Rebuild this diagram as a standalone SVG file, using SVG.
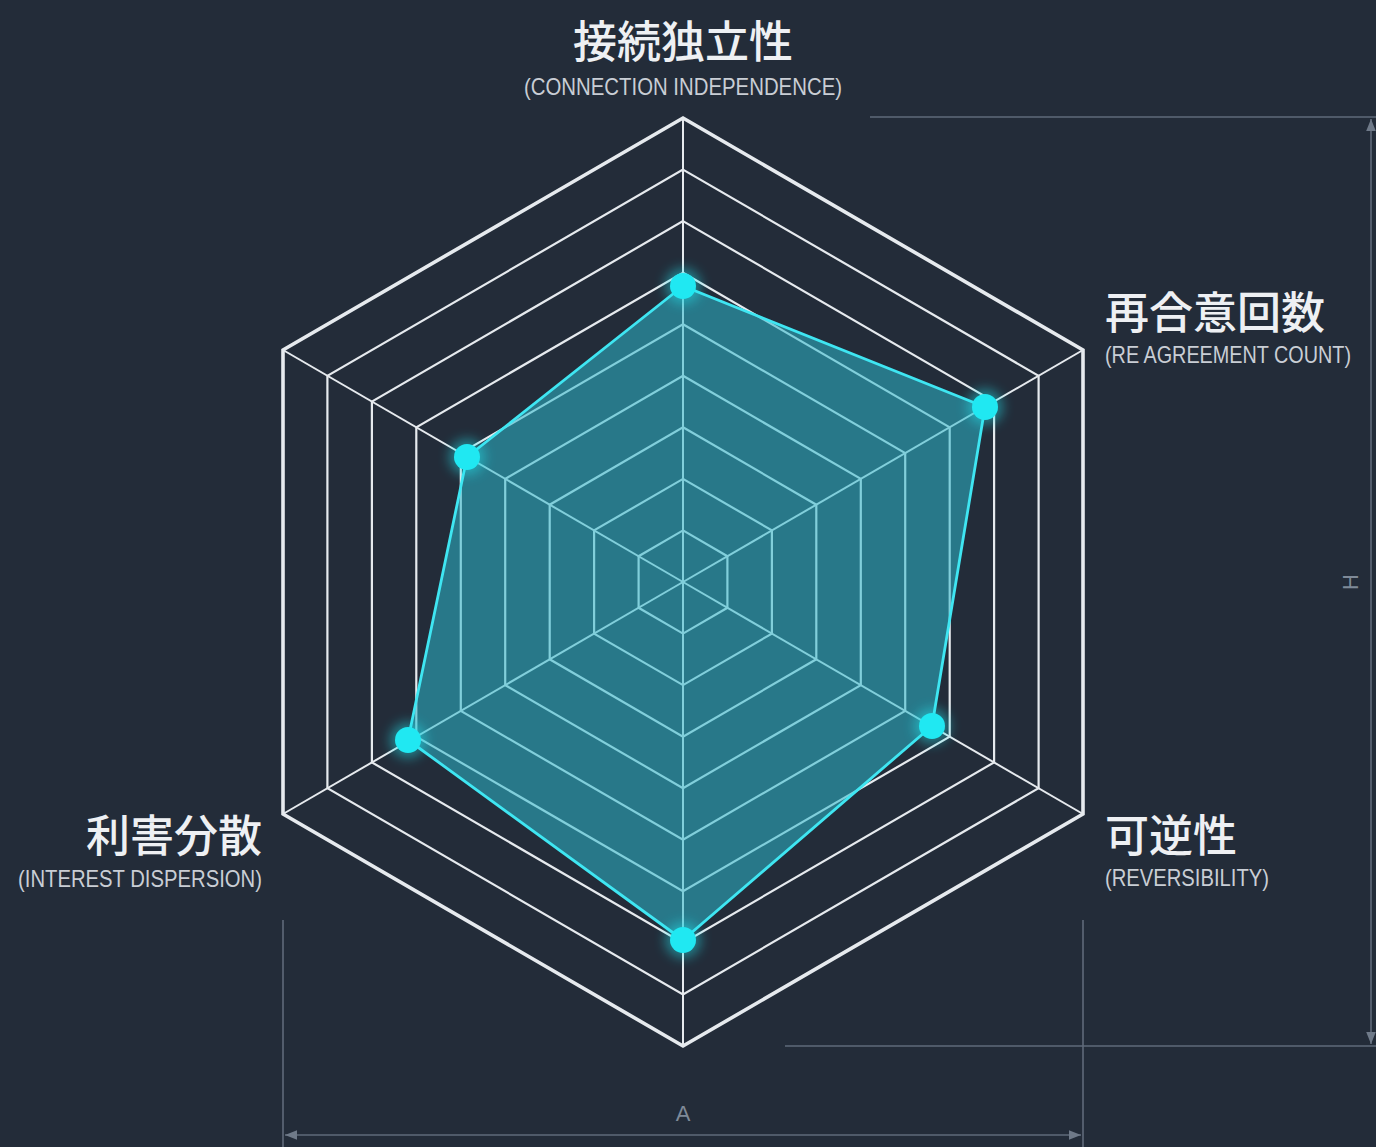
<svg xmlns="http://www.w3.org/2000/svg" width="1376" height="1147" viewBox="0 0 1376 1147">
  <defs>
    <style>
      .ring { fill: none; stroke: #e6eaee; stroke-width: 2.2; stroke-linejoin: miter; }
      .outer { stroke-width: 3.6; }
      .spoke { stroke: #e6eaee; stroke-width: 2; }
      .dim { stroke: #5f6a7a; stroke-width: 1.6; fill: none; }
      .jp { font-family: "Noto Sans CJK JP", "Noto Sans CJK SC", sans-serif; font-size: 44px; font-weight: 500; fill: #eef0f3; }
      .en { font-family: "Liberation Sans", Arial, sans-serif; font-size: 24px; fill: #c9ced5; }
      .dimtxt { font-family: "Liberation Sans", Arial, sans-serif; font-size: 22px; fill: #7f8a98; }
      .area { fill: #2eb8cc; fill-opacity: 0.55; stroke: #3fe6f2; stroke-width: 2.8; stroke-linejoin: round; }
      .dot { fill: #20e8f2; }
      .halo { fill: #20e8f2; opacity: 0.45; }
    </style>
    <filter id="glow" x="-100%" y="-100%" width="300%" height="300%">
      <feGaussianBlur stdDeviation="6"/>
    </filter>
    <marker id="arr" viewBox="0 0 10 10" refX="10" refY="5" markerWidth="12" markerHeight="12" markerUnits="userSpaceOnUse" orient="auto-start-reverse">
      <path d="M0,1 L10,5 L0,9 Z" fill="#6f7a89"/>
    </marker>
  </defs>

  <rect x="0" y="0" width="1376" height="1147" fill="#232c39"/>

  <!-- grid rings -->
  <g id="grid">
    <polygon class="ring" points="683,530.4 727.4,556.2 727.4,607.8 683,633.6 638.6,607.8 638.6,556.2"/>
    <polygon class="ring" points="683,478.9 771.9,530.4 771.9,633.6 683,685.1 594.1,633.6 594.1,530.4"/>
    <polygon class="ring" points="683,427.3 816.3,504.7 816.3,659.3 683,736.7 549.7,659.3 549.7,504.7"/>
    <polygon class="ring" points="683,375.8 860.8,478.9 860.8,685.1 683,788.2 505.2,685.1 505.2,478.9"/>
    <polygon class="ring" points="683,324.2 905.2,453.1 905.2,710.9 683,839.8 460.8,710.9 460.8,453.1"/>
    <polygon class="ring" points="683,272.7 949.7,427.3 949.7,736.7 683,891.3 416.3,736.7 416.3,427.3"/>
    <polygon class="ring" points="683,221.1 994.1,401.6 994.1,762.4 683,942.9 371.9,762.4 371.9,401.6"/>
    <polygon class="ring" points="683,169.6 1038.6,375.8 1038.6,788.2 683,994.4 327.4,788.2 327.4,375.8"/>
    <polygon class="ring outer" points="683,118 1083,350 1083,814 683,1046 283,814 283,350"/>
  </g>

  <!-- connectors: spokes and data polygon -->
  <g id="connectors">
    <line class="spoke" x1="683" y1="582" x2="683" y2="118"/>
    <line class="spoke" x1="683" y1="582" x2="1083" y2="350"/>
    <line class="spoke" x1="683" y1="582" x2="1083" y2="814"/>
    <line class="spoke" x1="683" y1="582" x2="683" y2="1046"/>
    <line class="spoke" x1="683" y1="582" x2="283" y2="814"/>
    <line class="spoke" x1="683" y1="582" x2="283" y2="350"/>
    <polygon id="data-area" class="area" points="683,286 985,407 932,726 683,940 408,740 467,457"/>
  </g>

  <!-- data points -->
  <g id="point-connection">
    <circle class="halo" cx="683" cy="286" r="18" filter="url(#glow)"/>
    <circle class="dot" cx="683" cy="286" r="13"/>
  </g>
  <g id="point-reagreement">
    <circle class="halo" cx="985" cy="407" r="18" filter="url(#glow)"/>
    <circle class="dot" cx="985" cy="407" r="13"/>
  </g>
  <g id="point-reversibility">
    <circle class="halo" cx="932" cy="726" r="18" filter="url(#glow)"/>
    <circle class="dot" cx="932" cy="726" r="13"/>
  </g>
  <g id="point-bottom">
    <circle class="halo" cx="683" cy="940" r="18" filter="url(#glow)"/>
    <circle class="dot" cx="683" cy="940" r="13"/>
  </g>
  <g id="point-interest">
    <circle class="halo" cx="408" cy="740" r="18" filter="url(#glow)"/>
    <circle class="dot" cx="408" cy="740" r="13"/>
  </g>
  <g id="point-upperleft">
    <circle class="halo" cx="467" cy="457" r="18" filter="url(#glow)"/>
    <circle class="dot" cx="467" cy="457" r="13"/>
  </g>

  <!-- axis labels -->
  <g id="label-connection">
    <text class="jp" x="683" y="58" text-anchor="middle">接続独立性</text>
    <text class="en" x="683" y="95" text-anchor="middle" font-size="25" textLength="318" lengthAdjust="spacingAndGlyphs">(CONNECTION INDEPENDENCE)</text>
  </g>
  <g id="label-reagreement">
    <text class="jp" x="1105" y="329">再合意回数</text>
    <text class="en" x="1105" y="363" font-size="19" textLength="246" lengthAdjust="spacingAndGlyphs">(RE AGREEMENT COUNT)</text>
  </g>
  <g id="label-reversibility">
    <text class="jp" x="1105" y="852">可逆性</text>
    <text class="en" x="1105" y="886" textLength="164" lengthAdjust="spacingAndGlyphs">(REVERSIBILITY)</text>
  </g>
  <g id="label-interest">
    <text class="jp" x="262" y="852" text-anchor="end">利害分散</text>
    <text class="en" x="262" y="887" text-anchor="end" textLength="244" lengthAdjust="spacingAndGlyphs">(INTEREST DISPERSION)</text>
  </g>

  <!-- dimension lines -->
  <g id="dimension-width">
    <line class="dim" x1="283" y1="920" x2="283" y2="1147"/>
    <line class="dim" x1="1083" y1="920" x2="1083" y2="1147"/>
    <line class="dim" x1="285" y1="1135" x2="1081" y2="1135" marker-start="url(#arr)" marker-end="url(#arr)"/>
    <text class="dimtxt" x="683" y="1121" text-anchor="middle">A</text>
  </g>
  <g id="dimension-height">
    <line class="dim" x1="870" y1="117" x2="1376" y2="117"/>
    <line class="dim" x1="785" y1="1046" x2="1376" y2="1046"/>
    <line class="dim" x1="1371" y1="119" x2="1371" y2="1044" marker-start="url(#arr)" marker-end="url(#arr)"/>
    <text class="dimtxt" x="1350" y="582" text-anchor="middle" dominant-baseline="central" font-size="18" transform="rotate(-90 1350 582)">H</text>
  </g>
</svg>
